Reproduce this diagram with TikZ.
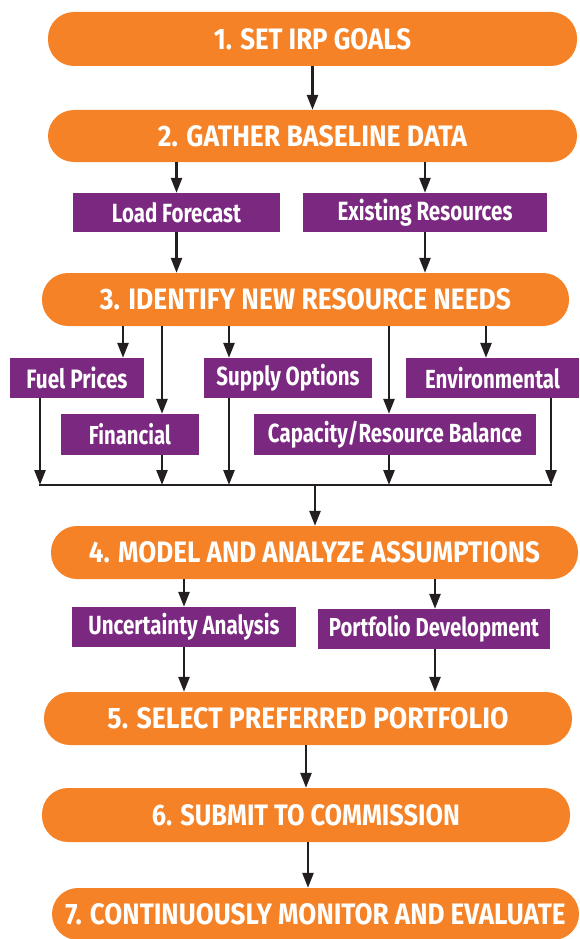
\documentclass[tikz,border=0pt]{standalone}
\usepackage{fontspec}
\usepackage{graphicx}
\usetikzlibrary{arrows.meta}
\newfontfamily\headfont{Fira Sans}
\newfontfamily\labfont{Fira Sans}[FakeStretch=0.78]
\definecolor{irporange}{RGB}{245,130,38}
\definecolor{irppurple}{RGB}{122,40,128}
\definecolor{irpink}{RGB}{35,31,32}
\newcommand{\hd}[2]{\resizebox{#1pt}{21pt}{\headfont\bfseries #2}}
\newcommand{\lb}[2]{\resizebox{#1pt}{!}{\labfont\bfseries #2}}
\tikzset{
  stepbox/.style={fill=irporange, text=white, rounded corners=26pt, minimum height=53pt, inner sep=0pt},
  subbox/.style={fill=irppurple, text=white, minimum height=40pt, inner sep=0pt},
  arr/.style={line width=2.6pt, draw=irpink, -{Triangle[width=11pt,length=15pt]}},
  busline/.style={line width=2.6pt, draw=irpink},
}
\begin{document}
\begin{tikzpicture}[x=1pt,y=-1pt]
\useasboundingbox (0,0) rectangle (579,939);
% main steps
\node[stepbox, minimum width=529pt, minimum height=54pt] (s1) at (312.5,39) {\hd{197}{1. SET IRP GOALS}};
\node[stepbox, minimum width=529pt, minimum height=52pt] (s2) at (312.5,136) {\hd{309}{2. GATHER BASELINE DATA}};
\node[stepbox, minimum width=527pt] (s3) at (305.5,299.5) {\hd{411}{3. IDENTIFY NEW RESOURCE NEEDS}};
\node[stepbox, minimum width=527pt] (s4) at (314.5,552.5) {\hd{451}{4. MODEL AND ANALYZE ASSUMPTIONS}};
\node[stepbox, minimum width=528pt] (s5) at (308,718.5) {\hd{401}{5. SELECT PREFERRED PORTFOLIO}};
\node[stepbox, minimum width=528pt, minimum height=54pt] (s6) at (306,815) {\hd{308}{6. SUBMIT TO COMMISSION}};
\node[stepbox, minimum width=527pt, minimum height=52pt] (s7) at (315.5,914) {\hd{500}{7. CONTINUOUSLY MONITOR AND EVALUATE}};
% sub boxes
\node[subbox, minimum width=207pt, minimum height=39pt] (lf) at (176.5,212.5) {\lb{129}{Load Forecast}};
\node[subbox, minimum width=244pt, minimum height=39pt] (er) at (425,212.5) {\lb{175}{Existing Resources}};
\node[subbox, minimum width=134pt] (fp) at (77,378) {\lb{101}{Fuel Prices}};
\node[subbox, minimum width=168pt] (so) at (288,378) {\lb{143}{Supply Options}};
\node[subbox, minimum width=173pt] (env) at (492.5,378) {\lb{135}{Environmental}};
\node[subbox, minimum width=138pt, minimum height=41pt] (fin) at (130,434.5) {\lb{82}{Financial}};
\node[subbox, minimum width=282pt, minimum height=41pt] (cap) at (395,434.5) {\lb{254}{Capacity/Resource Balance}};
\node[subbox, minimum width=224pt] (ua) at (184,627) {\lb{191}{Uncertainty Analysis}};
\node[subbox, minimum width=232pt] (pd) at (434,629) {\lb{210}{Portfolio Development}};
% bus
\coordinate (busL) at (40,485);
\coordinate (busR) at (551,485);
% connectors
\draw[arr] (s1.south) -- (s2.north);
\draw[arr] (lf.north |- s2.south) -- (lf.north);
\draw[arr] (er.north |- s2.south) -- (er.north);
\draw[arr] (lf.south) -- (lf.south |- s3.north);
\draw[arr] (er.south) -- (er.south |- s3.north);
\draw[arr] ([xshift=46pt]fp.north |- s3.south) -- ([xshift=46pt]fp.north);
\draw[arr] ([xshift=32pt]fin.north |- s3.south) -- ([xshift=32pt]fin.north);
\draw[arr] ([xshift=-59pt]so.north |- s3.south) -- ([xshift=-59pt]so.north);
\draw[arr] ([xshift=-6pt]cap.north |- s3.south) -- ([xshift=-6pt]cap.north);
\draw[arr] ([xshift=-6.5pt]env.north |- s3.south) -- ([xshift=-6.5pt]env.north);
\draw[arr] ([xshift=-37pt]fp.south) -- ([xshift=-37pt]fp.south |- busL);
\draw[arr] ([xshift=32pt]fin.south) -- ([xshift=32pt]fin.south |- busL);
\draw[arr] ([xshift=-59pt]so.south) -- ([xshift=-59pt]so.south |- busL);
\draw[arr] ([xshift=-6pt]cap.south) -- ([xshift=-6pt]cap.south |- busL);
\draw[arr] ([xshift=58.5pt]env.south) -- ([xshift=58.5pt]env.south |- busL);
\draw[busline] ([xshift=-1.3pt]busL) -- ([xshift=1.3pt]busR);
\draw[arr] ([xshift=0.5pt]s4.north |- busL) -- ([xshift=0.5pt]s4.north);
\draw[arr] (ua.north |- s4.south) -- (ua.north);
\draw[arr] ([xshift=1pt]pd.north |- s4.south) -- ([xshift=1pt]pd.north);
\draw[arr] (ua.south) -- (ua.south |- s5.north);
\draw[arr] ([xshift=1pt]pd.south) -- ([xshift=1pt]pd.south |- s5.north);
\draw[arr] (s6.north |- s5.south) -- (s6.north);
\draw[arr] ([xshift=2pt]s6.south) -- ([xshift=2pt]s6.south |- s7.north);
\end{tikzpicture}
\end{document}
